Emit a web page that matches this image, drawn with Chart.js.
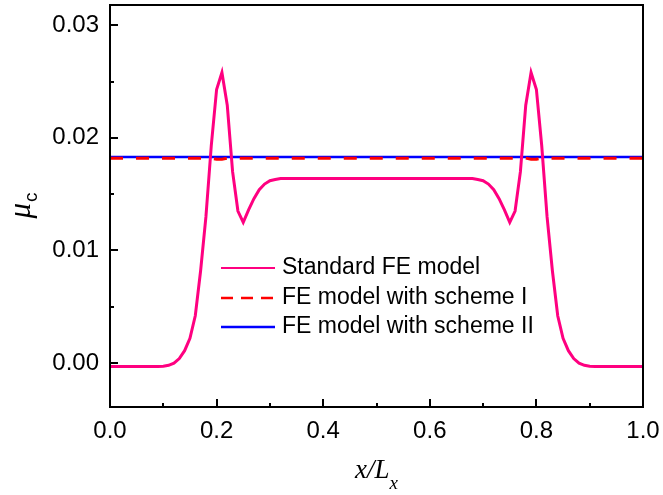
<!DOCTYPE html>
<html>
<head>
<meta charset="utf-8">
<script src="https://cdn.jsdelivr.net/npm/chart.js@4.4.1/dist/chart.umd.min.js"></script>
<style>
  html, body { margin: 0; padding: 0; background: #fff; }
  #wrap { width: 663px; height: 495px; }
</style>
</head>
<body>
<div id="wrap"><canvas id="chart" width="663" height="495"></canvas></div>
<script>
// x/Lx positions (step 0.01)
const xValues = [
  0.00, 0.01, 0.02, 0.03, 0.04, 0.05, 0.06, 0.07, 0.08, 0.09,
  0.10, 0.11, 0.12, 0.13, 0.14, 0.15, 0.16, 0.17, 0.18, 0.19,
  0.20, 0.21, 0.22, 0.23, 0.24, 0.25, 0.26, 0.27, 0.28, 0.29,
  0.30, 0.31, 0.32, 0.33, 0.34, 0.35, 0.36, 0.37, 0.38, 0.39,
  0.40, 0.41, 0.42, 0.43, 0.44, 0.45, 0.46, 0.47, 0.48, 0.49,
  0.50, 0.51, 0.52, 0.53, 0.54, 0.55, 0.56, 0.57, 0.58, 0.59,
  0.60, 0.61, 0.62, 0.63, 0.64, 0.65, 0.66, 0.67, 0.68, 0.69,
  0.70, 0.71, 0.72, 0.73, 0.74, 0.75, 0.76, 0.77, 0.78, 0.79,
  0.80, 0.81, 0.82, 0.83, 0.84, 0.85, 0.86, 0.87, 0.88, 0.89,
  0.90, 0.91, 0.92, 0.93, 0.94, 0.95, 0.96, 0.97, 0.98, 0.99,
  1.00
];

// Standard FE model
const standardFE = [
  -0.0003, -0.0003, -0.0003, -0.0003, -0.0003, -0.0003, -0.0003, -0.0003, -0.0003, -0.0003,
  -0.00028, -0.0002, 0.0000, 0.0004, 0.0011, 0.0022, 0.0042, 0.0082, 0.0130, 0.0193,
  0.0243, 0.0258, 0.0229, 0.0170, 0.0135, 0.0125, 0.0136, 0.0146, 0.0154, 0.0159,
  0.0162, 0.0163, 0.0164, 0.0164, 0.0164, 0.0164, 0.0164, 0.0164, 0.0164, 0.0164,
  0.0164, 0.0164, 0.0164, 0.0164, 0.0164, 0.0164, 0.0164, 0.0164, 0.0164, 0.0164,
  0.0164, 0.0164, 0.0164, 0.0164, 0.0164, 0.0164, 0.0164, 0.0164, 0.0164, 0.0164,
  0.0164, 0.0164, 0.0164, 0.0164, 0.0164, 0.0164, 0.0164, 0.0164, 0.0164, 0.0163,
  0.0162, 0.0159, 0.0154, 0.0146, 0.0136, 0.0125, 0.0135, 0.0170, 0.0229, 0.0258,
  0.0243, 0.0193, 0.0130, 0.0082, 0.0042, 0.0022, 0.0011, 0.0004, 0.0000, -0.0002,
  -0.00028, -0.0003, -0.0003, -0.0003, -0.0003, -0.0003, -0.0003, -0.0003, -0.0003, -0.0003,
  -0.0003
];

// FE model with scheme I
const schemeI = [
  0.0182, 0.0182, 0.0182, 0.0182, 0.0182, 0.0182, 0.0182, 0.0182, 0.0182, 0.0182,
  0.0182, 0.0182, 0.0182, 0.0182, 0.0182, 0.0182, 0.0182, 0.0182, 0.0182, 0.0182,
  0.0181, 0.0181, 0.0182, 0.0182, 0.0182, 0.0182, 0.0182, 0.0182, 0.0182, 0.0182,
  0.0182, 0.0182, 0.0182, 0.0182, 0.0182, 0.0182, 0.0182, 0.0182, 0.0182, 0.0182,
  0.0182, 0.0182, 0.0182, 0.0182, 0.0182, 0.0182, 0.0182, 0.0182, 0.0182, 0.0182,
  0.0182, 0.0182, 0.0182, 0.0182, 0.0182, 0.0182, 0.0182, 0.0182, 0.0182, 0.0182,
  0.0182, 0.0182, 0.0182, 0.0182, 0.0182, 0.0182, 0.0182, 0.0182, 0.0182, 0.0182,
  0.0182, 0.0182, 0.0182, 0.0182, 0.0182, 0.0182, 0.0182, 0.0182, 0.0182, 0.0181,
  0.0181, 0.0182, 0.0182, 0.0182, 0.0182, 0.0182, 0.0182, 0.0182, 0.0182, 0.0182,
  0.0182, 0.0182, 0.0182, 0.0182, 0.0182, 0.0182, 0.0182, 0.0182, 0.0182, 0.0182,
  0.0182
];

// FE model with scheme II
const schemeII = [
  0.0183, 0.0183, 0.0183, 0.0183, 0.0183, 0.0183, 0.0183, 0.0183, 0.0183, 0.0183,
  0.0183, 0.0183, 0.0183, 0.0183, 0.0183, 0.0183, 0.0183, 0.0183, 0.0183, 0.0183,
  0.0183, 0.0183, 0.0183, 0.0183, 0.0183, 0.0183, 0.0183, 0.0183, 0.0183, 0.0183,
  0.0183, 0.0183, 0.0183, 0.0183, 0.0183, 0.0183, 0.0183, 0.0183, 0.0183, 0.0183,
  0.0183, 0.0183, 0.0183, 0.0183, 0.0183, 0.0183, 0.0183, 0.0183, 0.0183, 0.0183,
  0.0183, 0.0183, 0.0183, 0.0183, 0.0183, 0.0183, 0.0183, 0.0183, 0.0183, 0.0183,
  0.0183, 0.0183, 0.0183, 0.0183, 0.0183, 0.0183, 0.0183, 0.0183, 0.0183, 0.0183,
  0.0183, 0.0183, 0.0183, 0.0183, 0.0183, 0.0183, 0.0183, 0.0183, 0.0183, 0.0183,
  0.0183, 0.0183, 0.0183, 0.0183, 0.0183, 0.0183, 0.0183, 0.0183, 0.0183, 0.0183,
  0.0183, 0.0183, 0.0183, 0.0183, 0.0183, 0.0183, 0.0183, 0.0183, 0.0183, 0.0183,
  0.0183
];

const seriesLabels = ["Standard FE model", "FE model with scheme I", "FE model with scheme II"];

const xTickValues = [0, 0.2, 0.4, 0.6, 0.8, 1.0];
const xTickLabels = ["0.0", "0.2", "0.4", "0.6", "0.8", "1.0"];
const xMinorTicks = [0.1, 0.3, 0.5, 0.7, 0.9];
const yTickValues = [0, 0.01, 0.02, 0.03];
const yTickLabels = ["0.00", "0.01", "0.02", "0.03"];
const yMinorTicks = [0.005, 0.015, 0.025];

const toPoints = (ys) => xValues.map((x, i) => ({ x: x, y: ys[i] }));

const tickFont = { family: "'Liberation Sans', Arial, sans-serif", size: 24 };

// inward ticks, frame, legend and axis titles
const decorations = {
  id: "decorations",
  afterDraw(chart) {
    const ctx = chart.ctx;
    const a = chart.chartArea;
    const xs = chart.scales.x;
    const ys = chart.scales.y;
    ctx.save();
    ctx.strokeStyle = "#000";
    ctx.lineWidth = 2;
    ctx.strokeRect(a.left, a.top, a.right - a.left, a.bottom - a.top);

    ctx.beginPath();
    xTickValues.forEach(v => {
      const px = Math.round(xs.getPixelForValue(v));
      ctx.moveTo(px, a.bottom); ctx.lineTo(px, a.bottom - 8);
    });
    xMinorTicks.forEach(v => {
      const px = Math.round(xs.getPixelForValue(v));
      ctx.moveTo(px, a.bottom); ctx.lineTo(px, a.bottom - 4);
    });
    yTickValues.forEach(v => {
      const py = Math.round(ys.getPixelForValue(v));
      ctx.moveTo(a.left, py); ctx.lineTo(a.left + 8, py);
    });
    yMinorTicks.forEach(v => {
      const py = Math.round(ys.getPixelForValue(v));
      ctx.moveTo(a.left, py); ctx.lineTo(a.left + 4, py);
    });
    ctx.stroke();

    // legend
    const lx = a.left + 111, rowY = [268, 298, 327];
    ctx.font = "23px 'Liberation Sans', Arial, sans-serif";
    ctx.textBaseline = "middle";
    ctx.fillStyle = "#000";
    chart.data.datasets.forEach((ds, i) => {
      ctx.beginPath();
      ctx.strokeStyle = ds.borderColor;
      ctx.lineWidth = i === 0 ? 2 : 2.5;
      ctx.setLineDash(i === 1 ? [12, 8] : []);
      ctx.moveTo(lx, rowY[i]); ctx.lineTo(lx + 54, rowY[i]);
      ctx.stroke();
      ctx.setLineDash([]);
      ctx.fillText(ds.label, lx + 61, rowY[i]);
    });

    // x title: x/L_x
    ctx.textBaseline = "alphabetic";
    ctx.font = "italic 27px 'Liberation Serif', 'Times New Roman', serif";
    const main = "x/L";
    const wMain = ctx.measureText(main).width;
    ctx.font = "italic 19px 'Liberation Serif', 'Times New Roman', serif";
    const wSub = ctx.measureText("x").width;
    const cx = (a.left + a.right) / 2;
    let sx = cx - (wMain + wSub) / 2;
    ctx.font = "italic 27px 'Liberation Serif', 'Times New Roman', serif";
    ctx.fillText(main, sx, 478);
    ctx.font = "italic 19px 'Liberation Serif', 'Times New Roman', serif";
    ctx.fillText("x", sx + wMain, 489);

    // y title: mu_c
    const cy = (a.top + a.bottom) / 2;
    ctx.translate(30, cy);
    ctx.rotate(-Math.PI / 2);
    ctx.font = "italic 31px 'Liberation Serif', 'Times New Roman', serif";
    const wMu = ctx.measureText("\u03bc").width;
    ctx.font = "19px 'Liberation Sans', Arial, sans-serif";
    const wC = ctx.measureText("c").width;
    const sy = -(wMu + wC) / 2;
    ctx.font = "italic 31px 'Liberation Serif', 'Times New Roman', serif";
    ctx.fillText("\u03bc", sy, 0);
    ctx.font = "19px 'Liberation Sans', Arial, sans-serif";
    ctx.fillText("c", sy + wMu + 1, 7);
    ctx.restore();
  }
};

new Chart(document.getElementById("chart"), {
  type: "line",
  data: {
    datasets: [
      {
        label: seriesLabels[0],
        data: toPoints(standardFE),
        borderColor: "#ff0080",
        borderWidth: 3,
        pointRadius: 0,
        tension: 0
      },
      {
        label: seriesLabels[1],
        data: toPoints(schemeI),
        borderColor: "#ff0000",
        borderWidth: 3,
        borderDash: [13, 13],
        pointRadius: 0
      },
      {
        label: seriesLabels[2],
        data: toPoints(schemeII),
        borderColor: "#0000ff",
        borderWidth: 2.5,
        pointRadius: 0
      }
    ]
  },
  options: {
    responsive: false,
    animation: false,
    devicePixelRatio: 1,
    layout: { padding: { left: 0, right: 20, top: 5, bottom: 0 } },
    plugins: { legend: { display: false }, tooltip: { enabled: false } },
    scales: {
      x: {
        type: "linear",
        min: 0,
        max: 1,
        grid: { display: false, drawTicks: false },
        border: { display: false },
        ticks: {
          font: tickFont,
          color: "#000",
          padding: 10,
          maxRotation: 0,
          callback: (v) => {
            const i = xTickValues.findIndex(t => Math.abs(t - v) < 1e-9);
            return i >= 0 ? xTickLabels[i] : "";
          }
        },
        afterBuildTicks: (s) => { s.ticks = xTickValues.map(v => ({ value: v })); },
        afterFit: (s) => { s.height = 88; s.paddingLeft = 0; s.paddingRight = 0; }
      },
      y: {
        type: "linear",
        min: -0.0039,
        max: 0.0318,
        grid: { display: false, drawTicks: false },
        border: { display: false },
        ticks: {
          font: tickFont,
          color: "#000",
          padding: 11,
          callback: (v) => {
            const i = yTickValues.findIndex(t => Math.abs(t - v) < 1e-9);
            return i >= 0 ? yTickLabels[i] : "";
          }
        },
        afterBuildTicks: (s) => { s.ticks = yTickValues.map(v => ({ value: v })); },
        afterFit: (s) => { s.width = 110; s.paddingTop = 0; s.paddingBottom = 0; }
      }
    }
  },
  plugins: [decorations]
});
</script>
</body>
</html>
